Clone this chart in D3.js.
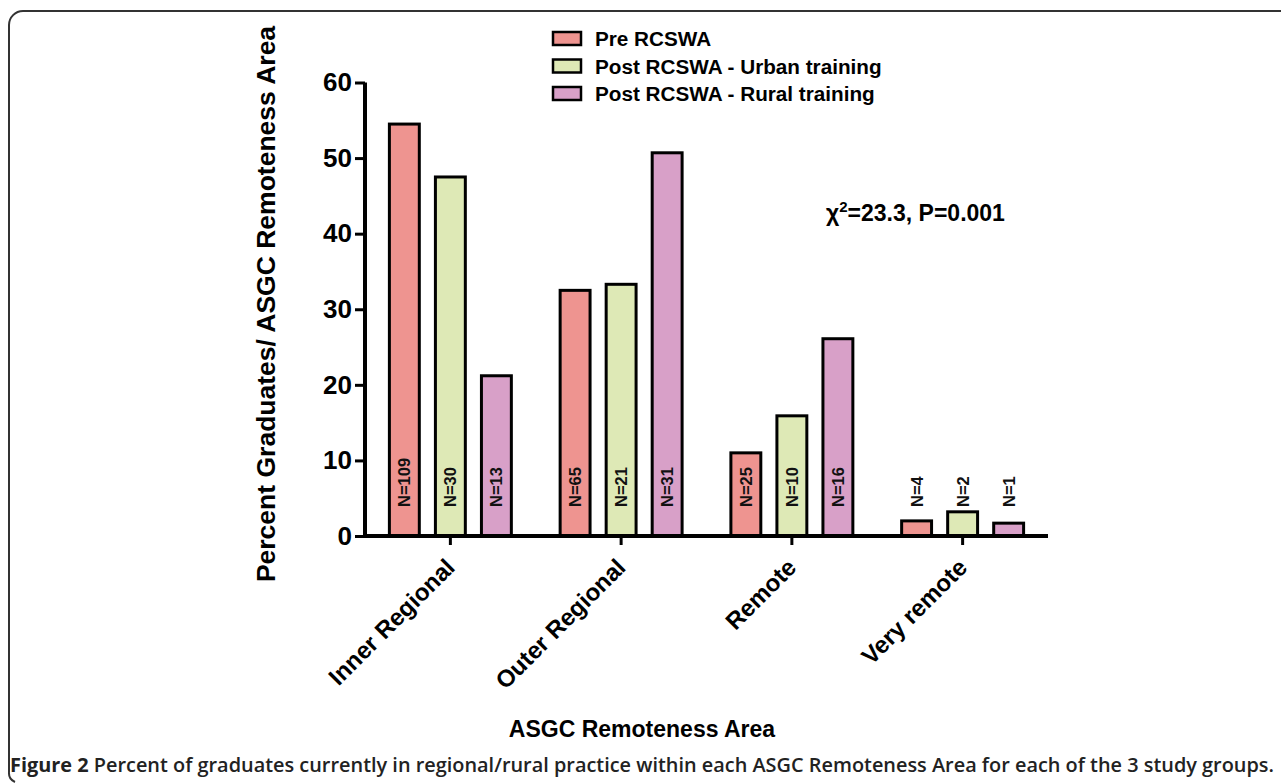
<!DOCTYPE html>
<html>
<head>
<meta charset="utf-8">
<script src="https://cdn.jsdelivr.net/npm/d3@7"></script>
<style>
  body { margin: 0; background: #fff; }
  svg { display: block; font-family: "Liberation Sans", Arial, sans-serif; }
</style>
</head>
<body>
<svg id="chart" width="1281" height="783"></svg>
<script>
// Data
const areas = ["Inner Regional", "Outer Regional", "Remote", "Very remote"];
const groups = ["Pre RCSWA", "Post RCSWA - Urban training", "Post RCSWA - Rural training"];
const preValues = [54.5, 32.5, 11.0, 2.0];
const urbanValues = [47.5, 33.3, 15.9, 3.2];
const ruralValues = [21.2, 50.7, 26.1, 1.7];
const preN = ["N=109", "N=65", "N=25", "N=4"];
const urbanN = ["N=30", "N=21", "N=10", "N=2"];
const ruralN = ["N=13", "N=31", "N=16", "N=1"];
const yTicks = [0, 10, 20, 30, 40, 50, 60];
const colors = ["#ee9490", "#dee9b6", "#d8a0c8"];

const series = [preValues, urbanValues, ruralValues];
const labels = [preN, urbanN, ruralN];

const rows = [];
areas.forEach((a, i) => {
  groups.forEach((g, j) => {
    rows.push({ area: a, group: g, value: series[j][i], n: labels[j][i] });
  });
});

const svg = d3.select("#chart");

// Frame (top + left rule with rounded corners)
svg.append("path")
  .attr("d", "M1281,11 H23 A14,14 0 0 0 9,25 V772 A10,10 0 0 0 15,782")
  .attr("fill", "none")
  .attr("stroke", "#333")
  .attr("stroke-width", 2);

const margin = { left: 365, right: 1048, top: 82.5, bottom: 536 };

const x0 = d3.scaleBand()
  .domain(areas)
  .range([margin.left, margin.right])
  .padding(0);

const x1 = d3.scaleBand()
  .domain(groups)
  .range([0, x0.bandwidth()])
  .paddingInner(0.35)
  .paddingOuter(0.53);

const y = d3.scaleLinear()
  .domain([0, 60])
  .range([margin.bottom, margin.top]);

// Bars
svg.append("g")
  .selectAll("rect")
  .data(rows)
  .join("rect")
  .attr("x", d => x0(d.area) + x1(d.group))
  .attr("y", d => y(d.value))
  .attr("width", x1.bandwidth())
  .attr("height", d => y(0) - y(d.value))
  .attr("fill", d => colors[groups.indexOf(d.group)])
  .attr("stroke", "#000")
  .attr("stroke-width", 3);

// N labels (vertical)
svg.append("g")
  .selectAll("text")
  .data(rows)
  .join("text")
  .attr("transform", d => `translate(${x0(d.area) + x1(d.group) + x1.bandwidth() / 2 + 6},${y(0) - 29}) rotate(-90)`)
  .attr("text-anchor", "start")
  .style("font-size", "16.5px")
  .style("font-weight", "bold")
  .style("fill", "#111")
  .text(d => d.n);

// Y axis
const yAxis = svg.append("g")
  .attr("transform", `translate(${margin.left},0)`)
  .call(d3.axisLeft(y).tickValues(yTicks).tickSize(10).tickSizeOuter(0).tickPadding(3));
yAxis.select(".domain").attr("stroke", "#000").attr("stroke-width", 4).attr("d", `M0,${y(60)}V${y(0) + 2}`);
yAxis.selectAll(".tick line").attr("stroke", "#000").attr("stroke-width", 3);
yAxis.selectAll(".tick text")
  .style("font-size", "26px")
  .style("font-weight", "bold")
  .style("font-family", "Liberation Sans, Arial, sans-serif")
  .attr("fill", "#000");

// X axis
const xAxis = svg.append("g")
  .attr("transform", `translate(0,${margin.bottom})`)
  .call(d3.axisBottom(x0).tickSize(9).tickSizeOuter(0).tickPadding(0));
xAxis.select(".domain").attr("stroke", "#000").attr("stroke-width", 4).attr("d", `M${margin.left - 2},0H${margin.right}`);
xAxis.selectAll(".tick line").attr("stroke", "#000").attr("stroke-width", 3);
xAxis.selectAll(".tick text")
  .attr("transform", "translate(0,27) rotate(-45)")
  .attr("text-anchor", "end")
  .attr("dy", "0.35em")
  .attr("y", 0)
  .style("font-size", "24px")
  .style("font-weight", "bold")
  .style("font-family", "Liberation Sans, Arial, sans-serif")
  .attr("fill", "#000");

// Axis titles
svg.append("text")
  .attr("transform", `translate(275,304) rotate(-90)`)
  .attr("text-anchor", "middle")
  .style("font-size", "26.5px")
  .style("font-weight", "bold")
  .text("Percent Graduates/ ASGC Remoteness Area");

svg.append("text")
  .attr("x", 642)
  .attr("y", 737)
  .attr("text-anchor", "middle")
  .style("font-size", "23px")
  .style("font-weight", "bold")
  .text("ASGC Remoteness Area");

// Legend
const legend = svg.append("g").attr("transform", "translate(553,32)");
groups.forEach((g, i) => {
  const row = legend.append("g").attr("transform", `translate(0,${i * 27.5})`);
  row.append("rect")
    .attr("width", 28).attr("height", 13)
    .attr("fill", colors[i]).attr("stroke", "#000").attr("stroke-width", 2.5);
  row.append("text")
    .attr("x", 42).attr("y", 14)
    .style("font-size", "20.7px")
    .style("font-weight", "bold")
    .text(g);
});

// Statistic annotation
const stat = svg.append("text")
  .attr("x", 826)
  .attr("y", 221)
  .style("font-size", "23px")
  .style("font-weight", "bold");
stat.append("tspan").text("\u03c7");
stat.append("tspan").attr("dy", -9).style("font-size", "15px").text("2");
stat.append("tspan").attr("dy", 9).text("=23.3, P=0.001");

// Caption
const cap = svg.append("text")
  .attr("x", 10)
  .attr("y", 772)
  .style("font-family", "'Open Sans', sans-serif")
  .style("font-size", "19.5px")
  .style("font-weight", "600")
  .style("fill", "#222")
  .attr("textLength", 1264)
  .attr("lengthAdjust", "spacingAndGlyphs");
cap.append("tspan").style("font-weight", "bold").text("Figure 2");
cap.append("tspan").text(" Percent of graduates currently in regional/rural practice within each ASGC Remoteness Area for each of the 3 study groups.");
</script>
</body>
</html>
